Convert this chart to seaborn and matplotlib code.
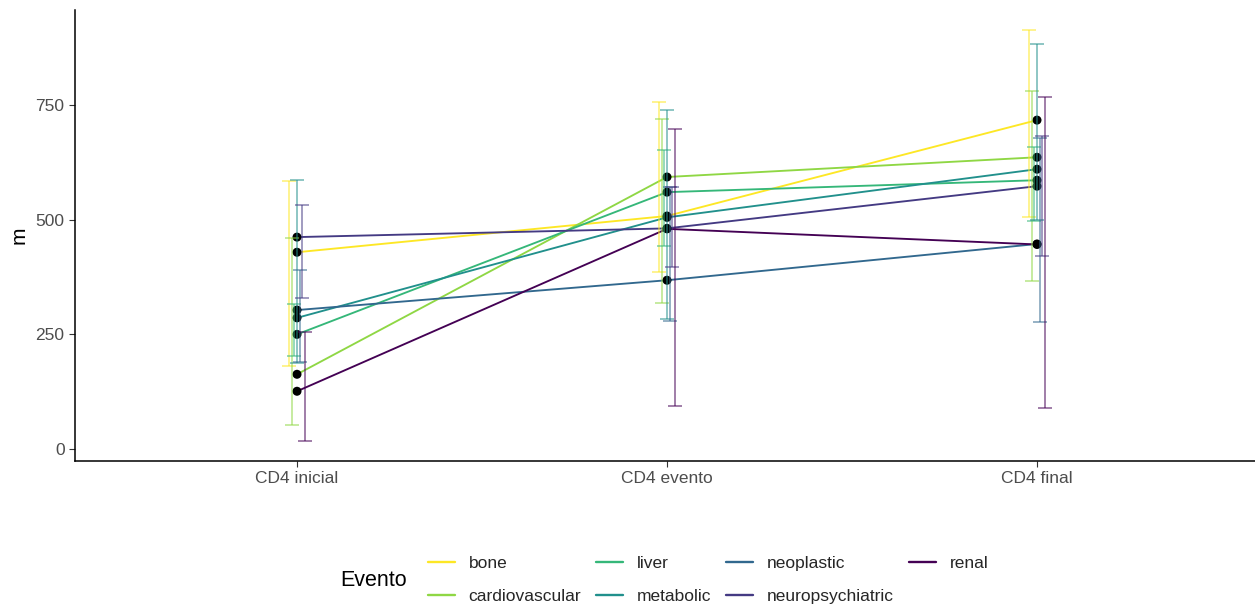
import numpy as np
import pandas as pd
import seaborn as sns
import matplotlib
matplotlib.use("Agg")
import matplotlib.pyplot as plt
from matplotlib.lines import Line2D

# CD4 counts by event type across three measurement moments
stages = ["CD4 inicial", "CD4 evento", "CD4 final"]
eventos = ["bone", "cardiovascular", "liver", "metabolic",
           "neoplastic", "neuropsychiatric", "renal"]

# mean value per event (inicial, evento, final)
m_bone = [429, 508, 717]
m_cardiovascular = [163, 593, 636]
m_liver = [250, 560, 586]
m_metabolic = [286, 505, 610]
m_neoplastic = [303, 368, 447]
m_neuropsychiatric = [462, 481, 573]
m_renal = [126, 480, 446]

# lower / upper interval limits per event (inicial, evento, final)
lo_bone = [181, 387, 505]
hi_bone = [584, 756, 913]
lo_cardiovascular = [52, 318, 366]
hi_cardiovascular = [461, 719, 780]
lo_liver = [203, 443, 497]
hi_liver = [316, 652, 659]
lo_metabolic = [188, 283, 500]
hi_metabolic = [586, 738, 882]
lo_neoplastic = [190, 279, 278]
hi_neoplastic = [390, 572, 677]
lo_neuropsychiatric = [330, 396, 421]
hi_neuropsychiatric = [532, 572, 682]
lo_renal = [18, 94, 89]
hi_renal = [255, 698, 768]

means = [m_bone, m_cardiovascular, m_liver, m_metabolic,
         m_neoplastic, m_neuropsychiatric, m_renal]
lows = [lo_bone, lo_cardiovascular, lo_liver, lo_metabolic,
        lo_neoplastic, lo_neuropsychiatric, lo_renal]
highs = [hi_bone, hi_cardiovascular, hi_liver, hi_metabolic,
         hi_neoplastic, hi_neuropsychiatric, hi_renal]

rows = []
for ev, mv, lv, hv in zip(eventos, means, lows, highs):
    for st, a, b, c in zip(stages, mv, lv, hv):
        rows.append({"Evento": ev, "stage": st, "m": a, "lo": b, "hi": c})
df = pd.DataFrame(rows)
df["stage"] = pd.Categorical(df["stage"], categories=stages, ordered=True)

palette = dict(zip(eventos, ["#FDE725", "#8FD744", "#35B779", "#21908C",
                             "#31688E", "#443A83", "#440154"]))

sns.set_theme(style="ticks")
plt.rcParams["font.family"] = ["Liberation Sans", "DejaVu Sans"]

W, H = 1255, 609
fig = plt.figure(figsize=(W / 100, H / 100), dpi=100)
ax = fig.add_axes([75 / W, (H - 461) / H, (1259 - 75) / W, (461 - 10) / H])

df["xpos"] = df["stage"].cat.codes.astype(float)

sns.lineplot(data=df, x="xpos", y="m", hue="Evento", palette=palette,
             hue_order=eventos, linewidth=1.35, legend=False, ax=ax,
             estimator=None, sort=True)
sns.scatterplot(data=df, x="xpos", y="m", color="black", s=42,
                edgecolor="none", zorder=3, legend=False, ax=ax)

# interval bars, dodged slightly per event
dodge = 0.05
n = len(eventos)
for i, ev in enumerate(eventos):
    sub = df[df["Evento"] == ev]
    off = (i - (n - 1) / 2) * dodge / n
    ax.errorbar(sub["xpos"] + off, (sub["lo"] + sub["hi"]) / 2,
                yerr=[(sub["hi"] - sub["lo"]) / 2, (sub["hi"] - sub["lo"]) / 2],
                fmt="none", ecolor=palette[ev], alpha=0.55, elinewidth=1.3,
                capsize=5, capthick=1.3, zorder=4)

ax.set_xlim(-0.6, 2.6)
ax.set_ylim(-26, 957)
ax.set_xticks([0, 1, 2])
ax.set_xticklabels(stages)
ax.set_yticks([0, 250, 500, 750])
ax.set_xlabel("")
ax.set_ylabel("m", fontsize=15, color="black", labelpad=5)
ax.tick_params(axis="both", labelsize=12.5, labelcolor="#4D4D4D",
               color="#333333", length=4, width=0.8)
for side in ["top", "right"]:
    ax.spines[side].set_visible(False)
for side in ["left", "bottom"]:
    ax.spines[side].set_linewidth(1.1)
    ax.spines[side].set_color("black")

handles = [Line2D([0], [0], color=palette[ev], lw=1.7) for ev in eventos]
fig.legend(handles, eventos, ncol=4, loc="center left",
           bbox_to_anchor=(412 / W, 1 - 580 / H), frameon=False,
           fontsize=12.5, handlelength=1.55, handletextpad=0.8,
           columnspacing=0.86, labelspacing=1.05)
fig.text(340 / W, 1 - 580 / H, "Evento", fontsize=15.5, va="center",
         ha="left", color="black")

fig.savefig("out.png", dpi=100)
